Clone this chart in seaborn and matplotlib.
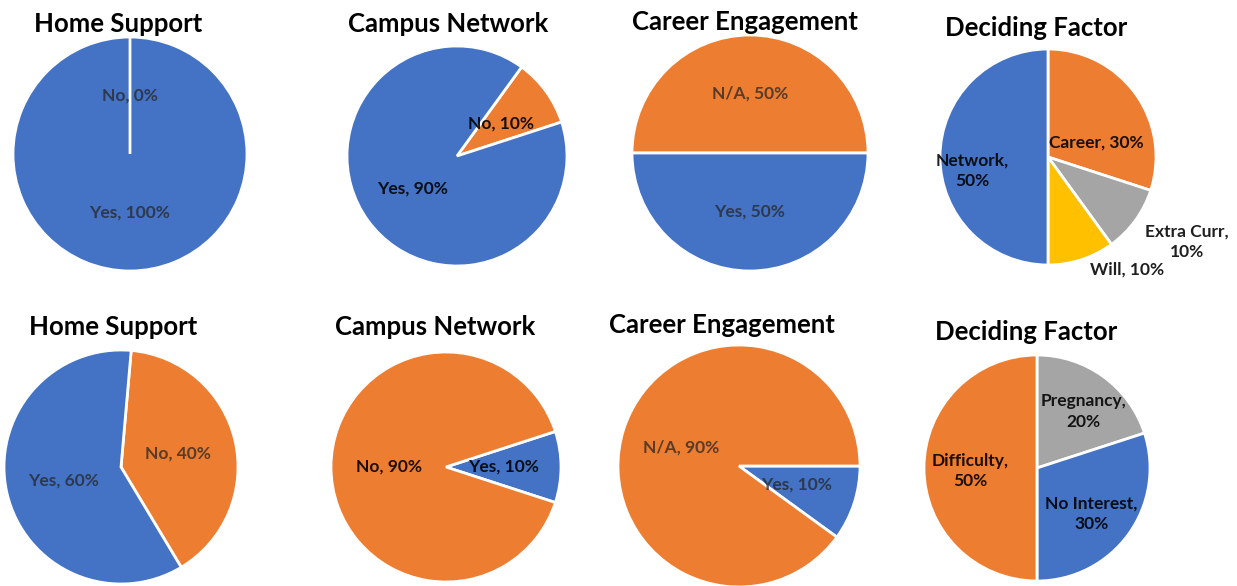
import matplotlib
matplotlib.use("Agg")
import matplotlib.pyplot as plt
import seaborn as sns
import numpy as np

sns.set_theme(style="white")
plt.rcParams['font.family'] = ['Lato', 'DejaVu Sans']

# ---- data -------------------------------------------------------------
titles = ["Home Support", "Campus Network", "Career Engagement", "Deciding Factor",
          "Home Support", "Campus Network", "Career Engagement", "Deciding Factor"]

hs1_labels = ["Yes", "No"]
hs1_values = [100, 0]
cn1_labels = ["No", "Yes"]
cn1_values = [10, 90]
ce1_labels = ["N/A", "Yes"]
ce1_values = [50, 50]
df1_labels = ["Career", "Extra Curr", "Will", "Network"]
df1_values = [30, 10, 10, 50]

hs2_labels = ["No", "Yes"]
hs2_values = [40, 60]
cn2_labels = ["Yes", "No"]
cn2_values = [10, 90]
ce2_labels = ["Yes", "N/A"]
ce2_values = [10, 90]
df2_labels = ["Pregnancy", "No Interest", "Difficulty"]
df2_values = [20, 30, 50]

# ---- styling ----------------------------------------------------------
blue, orange, grey, gold = sns.color_palette(["#4472C4", "#ED7D31", "#A5A5A5", "#FFC000"])
category_colors = {
    "Yes": blue, "No": orange, "N/A": orange,
    "Network": blue, "Career": orange, "Extra Curr": grey, "Will": gold,
    "Difficulty": orange, "Pregnancy": grey, "No Interest": blue,
}
wrapped = {"Network", "Extra Curr", "Pregnancy", "Difficulty", "No Interest"}
soft_text = dict(color="#262626", alpha=0.75)
dark_text = dict(color="#000000", alpha=0.88)

W, H = 1237, 586
fig = plt.figure(figsize=(W / 100, H / 100), dpi=100)

# (center x, center y, radius) in pixels, title anchor, start angle, label style
panels = [
    dict(labels=hs1_labels, values=hs1_values, c=(130, 154), r=117, t=(118, 24), start=90, ts=soft_text),
    dict(labels=cn1_labels, values=cn1_values, c=(457, 156), r=110, t=(448, 24), start=54, ts=dark_text),
    dict(labels=ce1_labels, values=ce1_values, c=(750, 153), r=118, t=(745, 22), start=180, ts=soft_text),
    dict(labels=df1_labels, values=df1_values, c=(1048, 157), r=108, t=(1036, 28), start=90, ts=dark_text,
         pos={"Network": (0.71, 190), "Career": (0.47, 16), "Extra Curr": (1.51, -31.5), "Will": (1.27, -55)}),
    dict(labels=hs2_labels, values=hs2_values, c=(121, 467), r=117, t=(113, 327), start=85, ts=soft_text),
    dict(labels=cn2_labels, values=cn2_values, c=(446, 467), r=115, t=(435, 327), start=18, ts=dark_text),
    dict(labels=ce2_labels, values=ce2_values, c=(739, 466), r=121, t=(722, 325), start=0, ts=soft_text),
    dict(labels=df2_labels, values=df2_values, c=(1037, 468), r=113, t=(1026, 332), start=90, ts=dark_text,
         pos={"Pregnancy": (0.65, 50.5), "Difficulty": (0.59, 182.6), "No Interest": (0.63, -40)}),
]

for title, p in zip(titles, panels):
    cx, cy = p["c"]
    r = p["r"]
    ax = fig.add_axes([(cx - r) / W, 1 - (cy + r) / H, 2 * r / W, 2 * r / H])
    colors = [category_colors[l] for l in p["labels"]]
    wedges, _ = ax.pie(p["values"], colors=colors, startangle=p["start"], counterclock=False,
                       radius=1, wedgeprops=dict(edgecolor="white", linewidth=2))
    ax.set_xlim(-1, 1)
    ax.set_ylim(-1, 1)
    ax.set_aspect("equal")
    ax.axis("off")
    for w in wedges:
        w.set_clip_on(False)

    overrides = p.get("pos", {})
    for w, lab, val in zip(wedges, p["labels"], p["values"]):
        sep = ",\n" if lab in wrapped else ", "
        text = f"{lab}{sep}{val}%"
        if lab in overrides:
            rad, ang = overrides[lab]
        else:
            rad, ang = 0.5, (w.theta1 + w.theta2) / 2
        a = np.deg2rad(ang)
        ax.text(rad * np.cos(a), rad * np.sin(a), text, ha="center", va="center",
                multialignment="center", fontsize=12.5, fontweight="bold",
                linespacing=1.35, clip_on=False, zorder=5, **p["ts"])

    fig.text(p["t"][0] / W, 1 - p["t"][1] / H, title, ha="center", va="center",
             fontsize=18.5, fontweight="bold", color="black")

fig.savefig("out.png", dpi=100, facecolor="white")
